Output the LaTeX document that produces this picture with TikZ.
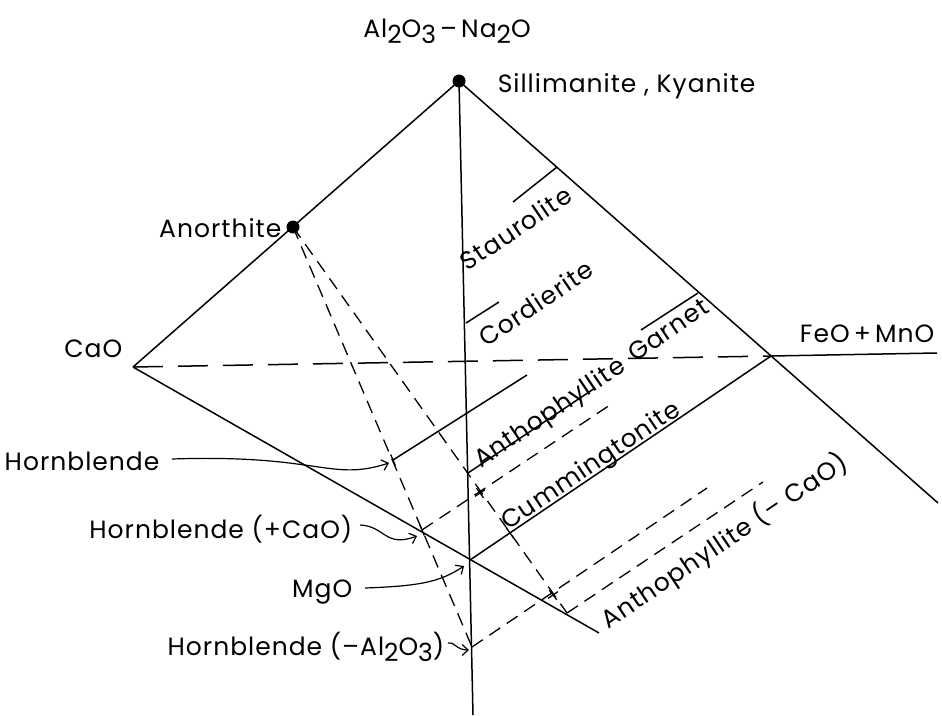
\documentclass[tikz,border=0pt]{standalone}
\usepackage{fontspec}
\setmainfont[LetterSpace=4]{Poppins}
\usetikzlibrary{arrows.meta,calc}
\newcommand{\sbs}[1]{\raisebox{-0.5ex}{#1}}
\newcommand{\rtick}[2]{\draw[ticksty] ($(#1)!-6pt!(#2)$) -- ($(#1)!6pt!(#2)$);}
\begin{document}
\begin{tikzpicture}[x=1pt,y=-1pt,
  line width=1.5pt,
  lbl/.style={font=\fontsize{25}{29}\selectfont, inner sep=0pt},
  rlbl/.style={lbl, rotate=34, anchor=base},
  longdash/.style={dash pattern=on 30pt off 15pt},
  shortdash/.style={dash pattern=on 13pt off 8pt, line width=1.3pt},
  ptr/.style={line width=1.2pt, -{Straight Barb[length=6pt,width=11pt]}},
  ticksty/.style={line width=1.3pt},
  dot/.style={circle, fill=black, inner sep=0pt, minimum size=13pt}]
\useasboundingbox (0,0) rectangle (942,715);
% main points
\coordinate (A) at (459,81);
\coordinate (An) at (293,227);
\coordinate (C) at (133,367);
\coordinate (F) at (771,356);
\coordinate (M) at (470,560);
\coordinate (Aend) at (938,503);
\coordinate (Fend) at (937,353);
\coordinate (Cend) at (599,633);
\coordinate (Vbot) at (473,715);
% tie-line points
\coordinate (St1) at (513,202); \coordinate (St2) at (557,167);
\coordinate (Co1) at (466,323); \coordinate (Co2) at (499,302);
\coordinate (Ga1) at (641,330); \coordinate (Ga2) at (698,293);
\coordinate (Hb1) at (393,460); \coordinate (Hb2) at (527,375);
\coordinate (At1) at (468,473); \coordinate (At2) at (595,388);
\coordinate (Hc1) at (422,530); \coordinate (Hc2) at (610,405);
\coordinate (Ha1) at (472,647); \coordinate (Ha2) at (707,488);
\coordinate (Ac1) at (567,613); \coordinate (Ac2) at (763,482);
\coordinate (X1) at (480,493);
\coordinate (X2) at (510,533);
\coordinate (X3) at (553,595);
% frame lines
\draw (C) -- (A) -- (Vbot);
\draw (A) -- (Aend);
\draw (C) -- (Cend);
\draw (M) -- (F) -- (Fend);
\draw[longdash] (C) -- (F);
% solid tie lines
\draw (St1) -- (St2);
\draw (Co1) -- (Co2);
\draw (Ga1) -- (Ga2);
\draw (Hb1) -- (Hb2);
\draw (At1) -- (At2);
% dashed lines
\draw[shortdash] (An) -- (Ha1);
\draw[shortdash] (An) -- (Ac1);
\draw[shortdash] (Hc1) -- (Hc2);
\draw[shortdash] (Ha1) -- (Ha2);
\draw[shortdash] (Ac1) -- (Ac2);
% ticks at crossings
\rtick{X1}{Ac1}
\rtick{X1}{Hc2}
\rtick{X2}{Ac1}
\rtick{X3}{Ac1}
\rtick{X3}{Ha2}
\rtick{Hc1}{Ha1}
\rtick{Hb1}{Ha1}
% dots
\node[dot] (Adot) at (A) {};
\node[dot] (Andot) at (An) {};
% labels
\node[lbl, anchor=base] (tAl) at (447,37) {Al\sbs{2}O\sbs{3}\,–\,Na\sbs{2}O};
\node[lbl, anchor=base west] (tSil) at (497,92) {Sillimanite , Kyanite};
\node[lbl, anchor=base east] (tAn) at (282,237) {Anorthite};
\node[lbl, anchor=base east] (tCa) at (123,357) {CaO};
\node[lbl, anchor=base east] (tFe) at (935,342) {FeO\,+\,MnO};
\node[lbl, anchor=base west] (tHb) at (4,470) {Hornblende};
\node[lbl, anchor=base east] (tHc) at (353,538) {Hornblende (+CaO)};
\node[lbl, anchor=base east] (tMg) at (353,597) {MgO};
\node[lbl, anchor=base east] (tHa) at (445,655) {Hornblende (–Al\sbs{2}O\sbs{3})};
\node[rlbl] (tSt) at (521,236) {Staurolite};
\node[rlbl] (tCo) at (541,311) {Cordierite};
\node[rlbl] (tAt) at (554,419) {Anthophyllite};
\node[rlbl] (tGa) at (673,337) {Garnet};
\node[rlbl] (tCu) at (595,472) {Cummingtonite};
\node[rlbl] (tAc) at (729,548) {Anthophyllite (– CaO)};
% pointer arrows
\coordinate (p1) at (172,459);
\coordinate (p2) at (360,525);
\coordinate (p3) at (365,588);
\coordinate (p4) at (448,643);
\draw[ptr] (p1) .. controls (320,454) and (330,482) .. ($(Hb1)+(-4,3)$);
\draw[ptr] (p2) .. controls (385,526) and (385,548) .. ($(Hc1)+(-5,6)$);
\draw[ptr] (p3) .. controls (420,586) and (440,582) .. ($(M)+(-6,6)$);
\draw[ptr] (p4) .. controls (454,641) and (456,650) .. ($(Ha1)+(-3,3)$);
\end{tikzpicture}
\end{document}
